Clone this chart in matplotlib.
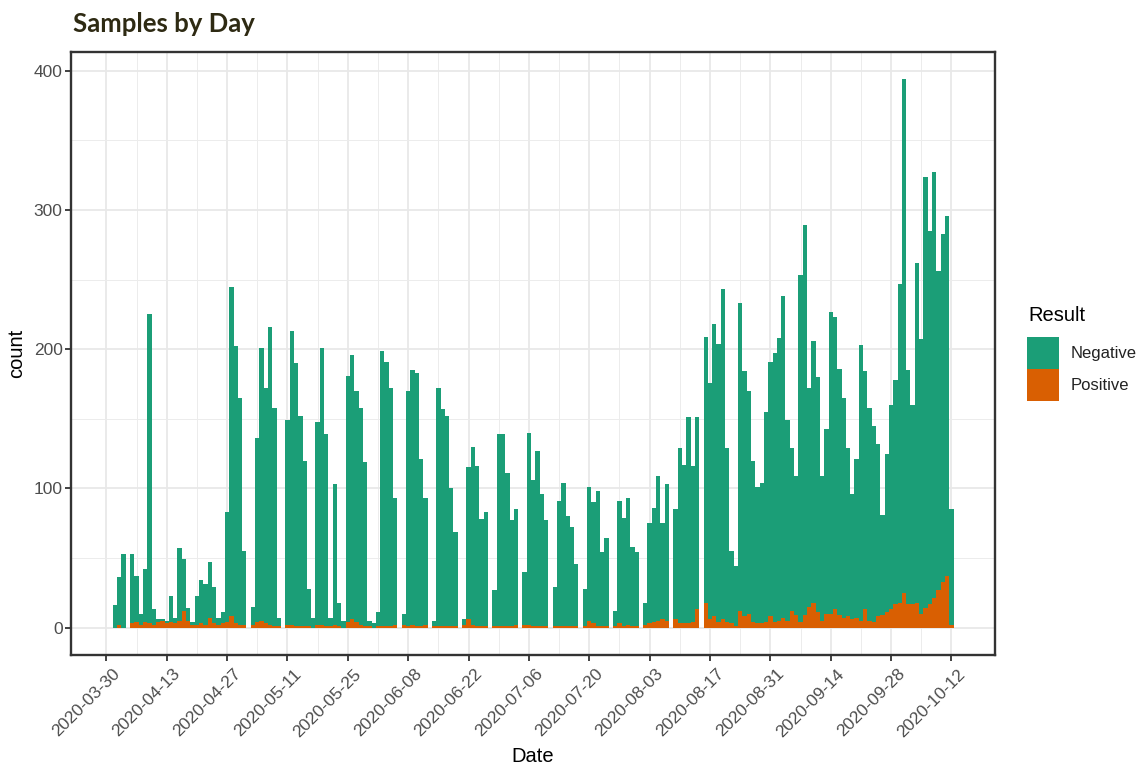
import numpy as np
import pandas as pd
import matplotlib
matplotlib.use('Agg')
import matplotlib.pyplot as plt
import matplotlib.dates as mdates
import matplotlib.transforms as mtransforms
from matplotlib.patches import Rectangle

# daily totals (Negative + Positive), 2020-04-01 .. 2020-10-12
total = [16, 36, 53, 0, 53, 37, 10, 42, 225, 13, 6, 6, 5, 23, 7, 57, 49, 14, 4, 23,
         34, 31, 47, 29, 7, 11, 83, 245, 202, 165, 55, 0, 15, 136, 201, 172, 216, 158, 7, 0,
         149, 213, 190, 152, 120, 28, 7, 148, 201, 139, 7, 103, 18, 5, 181, 196, 170, 158, 119, 5,
         3, 11, 199, 191, 172, 93, 0, 10, 170, 185, 183, 121, 93, 0, 5, 172, 157, 152, 100, 69,
         0, 6, 115, 130, 116, 78, 83, 0, 27, 139, 139, 111, 77, 85, 0, 40, 140, 106, 127, 96,
         77, 0, 29, 91, 104, 80, 72, 46, 0, 28, 101, 90, 98, 54, 64, 0, 12, 91, 79, 93,
         58, 54, 0, 18, 75, 86, 109, 75, 103, 0, 85, 129, 117, 151, 116, 151, 0, 209, 176, 218,
         204, 243, 129, 55, 44, 233, 184, 170, 120, 101, 104, 155, 191, 197, 208, 238, 149, 129, 109, 253,
         289, 172, 206, 180, 109, 143, 227, 223, 186, 165, 129, 96, 121, 203, 184, 158, 145, 132, 81, 125,
         160, 178, 247, 394, 185, 160, 262, 207, 324, 285, 327, 256, 283, 296, 85]

positive = [0, 2, 0, 0, 3, 4, 2, 4, 3, 2, 4, 5, 3, 4, 3, 5, 12, 5, 2, 2,
            3, 2, 7, 3, 2, 3, 4, 8, 3, 2, 2, 0, 2, 4, 5, 3, 2, 1, 1, 0,
            2, 2, 1, 1, 1, 1, 0, 2, 2, 1, 1, 2, 1, 0, 4, 6, 4, 2, 1, 1,
            0, 1, 1, 1, 1, 2, 0, 2, 1, 2, 1, 1, 2, 0, 1, 1, 1, 1, 1, 1,
            0, 2, 6, 2, 1, 1, 1, 0, 1, 1, 1, 1, 1, 2, 0, 2, 2, 1, 1, 1,
            1, 0, 1, 1, 1, 1, 1, 1, 0, 1, 5, 3, 1, 1, 1, 0, 1, 3, 1, 2,
            1, 1, 0, 2, 3, 4, 5, 6, 5, 0, 6, 3, 3, 3, 4, 13, 0, 18, 6, 8,
            4, 6, 4, 3, 1, 12, 8, 10, 4, 3, 3, 4, 8, 4, 5, 7, 5, 12, 9, 4,
            9, 15, 18, 11, 5, 10, 10, 13, 9, 7, 8, 6, 7, 5, 13, 5, 4, 8, 9, 11,
            13, 17, 18, 25, 17, 17, 18, 10, 14, 17, 21, 27, 33, 37, 2]

dates = pd.date_range('2020-04-01', periods=len(total), freq='D')
negative = np.array(total) - np.array(positive)

tick_dates = pd.date_range('2020-03-30', '2020-10-12', freq='14D')
minor_dates = pd.date_range('2020-04-06', '2020-10-05', freq='14D')
y_ticks = [0, 100, 200, 300, 400]
y_minor = [50, 150, 250, 350]

green = '#1b9e77'
orange = '#d95f02'

W, H = 1142, 767
fig = plt.figure(figsize=(W / 100, H / 100), dpi=100)
ax = fig.add_axes([71 / W, 1 - 655 / H, (995 - 71) / W, (655 - 51.7) / H])

ax.bar(dates, positive, width=1.0, color=orange, linewidth=0, zorder=3)
ax.bar(dates, negative, bottom=positive, width=1.0, color=green, linewidth=0, zorder=3)

ax.set_xlim(dates[0] - pd.Timedelta(days=10.2), dates[-1] + pd.Timedelta(days=10.1))
ax.set_ylim(-19.7, 413.7)

ax.set_xticks(tick_dates)
ax.set_xticks(minor_dates, minor=True)
ax.xaxis.set_major_formatter(mdates.DateFormatter('%Y-%m-%d'))
ax.set_yticks(y_ticks)
ax.set_yticks(y_minor, minor=True)

ax.grid(True, which='major', color='#e8e8e8', linewidth=1.3, zorder=0)
ax.grid(True, which='minor', color='#ececec', linewidth=0.7, zorder=0)
ax.set_axisbelow(True)

for s in ax.spines.values():
    s.set_color('#333333')
    s.set_linewidth(1.7)

ax.tick_params(which='major', length=4, width=1.3, color='#333333',
               labelcolor='#4d4d4d', labelsize=12.5, pad=2)
ax.tick_params(which='minor', length=0)
for lab in ax.get_xticklabels() + ax.get_yticklabels():
    lab.set_fontfamily('Liberation Sans')

plt.setp(ax.get_xticklabels(), rotation=45, ha='right', va='top', rotation_mode='anchor')
offset = mtransforms.ScaledTranslation(6 / 100, -3 / 100, fig.dpi_scale_trans)
for lab in ax.get_xticklabels():
    lab.set_transform(lab.get_transform() + offset)

fig.text(17 / W, 1 - 353 / H, 'count', rotation=90, ha='center', va='center',
         fontsize=14.5, family='Liberation Sans', color='black')
fig.text(533 / W, 1 - 757 / H, 'Date', ha='center', va='center',
         fontsize=14.5, family='Liberation Sans', color='black')

fig.text(72.7 / W, 1 - 31.7 / H, 'Samples by Day', ha='left', va='baseline',
         fontsize=18.5, fontweight='bold', family='Lato', color='#2e2a13')

# legend
fig.text(1028 / W, 1 - 315 / H, 'Result', ha='left', va='center',
         fontsize=14.5, family='Liberation Sans', color='black')
for i, (lab, col) in enumerate([('Negative', green), ('Positive', orange)]):
    top = 337 + i * 32
    fig.add_artist(Rectangle((1027 / W, 1 - (top + 32) / H), 32 / W, 32 / H,
                             transform=fig.transFigure, facecolor=col, edgecolor='none'))
    fig.text(1071 / W, 1 - (top + 16) / H, lab, ha='left', va='center',
             fontsize=12, family='Liberation Sans', color='#222222')

fig.savefig('out.png', dpi=100, facecolor='white')
